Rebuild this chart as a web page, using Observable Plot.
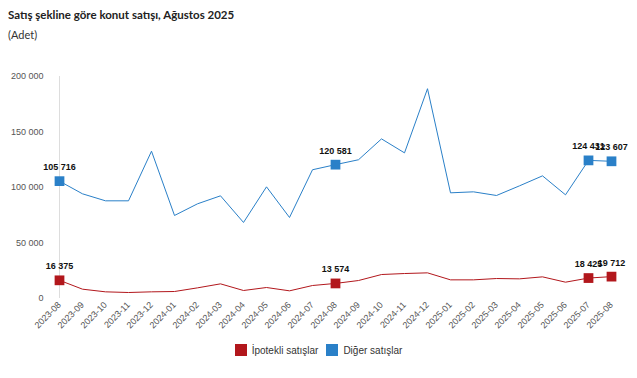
<!DOCTYPE html>
<html><head><meta charset="utf-8">
<script src="https://cdn.jsdelivr.net/npm/d3@7"></script>
<script src="https://cdn.jsdelivr.net/npm/@observablehq/plot@0.6"></script>
<style>
body{margin:0;background:#fff;width:637px;height:378px;overflow:hidden;font-family:Lato,sans-serif;}
#title{position:absolute;left:8px;top:8px;font-size:11.5px;font-weight:bold;color:#222;}
#sub{position:absolute;left:8px;top:28px;font-size:11px;color:#333;}
#chart{position:absolute;left:0;top:50px;}
#legend{position:absolute;top:344px;left:0;width:637px;text-align:center;font-family:"Liberation Sans",Arial,sans-serif;font-size:10px;color:#333;}
#legend span.sw{display:inline-block;width:12px;height:12px;vertical-align:-2px;margin-right:5px;}
#legend span.it{margin:0 4px;}
</style></head>
<body>
<div id="title">Satış şekline göre konut satışı, Ağustos 2025</div>
<div id="sub">(Adet)</div>
<div id="chart"></div>
<div id="legend"></div>
<script>
const months = ["2023-08","2023-09","2023-10","2023-11","2023-12","2024-01","2024-02","2024-03","2024-04","2024-05","2024-06","2024-07","2024-08","2024-09","2024-10","2024-11","2024-12","2025-01","2025-02","2025-03","2025-04","2025-05","2025-06","2025-07","2025-08"];
const ipotekli = [16375,8400,6000,5400,6000,6300,9600,13200,7200,9900,6900,11700,13574,16200,21600,22500,23100,16800,16800,18000,17700,19500,14700,18425,19712];
const diger = [105716,94300,88000,88000,132700,74800,85300,92500,68500,100600,73000,116000,120581,125000,143800,131200,189000,95200,96100,92800,101500,110500,93400,124431,123607];
const highlighted = ["2023-08","2024-08","2025-07","2025-08"];
const yTicks = [0,50000,100000,150000,200000];
const seriesNames = ["İpotekli satışlar","Diğer satışlar"];
const colors = ["#b2171c","#2a80c8"];

const rows = [];
months.forEach((m,i)=>{
  rows.push({month:m, value:ipotekli[i], series:seriesNames[0]});
  rows.push({month:m, value:diger[i], series:seriesNames[1]});
});
const hl = rows.filter(d=>highlighted.includes(d.month));
const fmt = v => d3.format(",")(v).replace(/,/g," ");

const chart = Plot.plot({
  width:637, height:290,
  marginLeft:54, marginRight:22, marginTop:26, marginBottom:42,
  style:{fontFamily:"'Liberation Sans',Arial,sans-serif", fontSize:"9px", color:"#444", background:"#fff"},
  x:{type:"point", domain:months, padding:0, label:null},
  y:{domain:[0,200000], label:null},
  color:{domain:seriesNames, range:colors},
  marks:[
    Plot.ruleX([months[0]], {stroke:"#ddd"}),
    Plot.ruleY([0], {stroke:"#ddd", x1:months[0], x2:months[months.length-1]}),
    Plot.axisY({ticks:yTicks, tickFormat:fmt, tickSize:0, tickPadding:11, fontSize:9, fill:"#555"}),
    Plot.axisX({tickRotate:-45, tickSize:0, tickPadding:5, fontSize:9, fill:"#555"}),
    Plot.line(rows, {x:"month", y:"value", stroke:"series", strokeWidth:1}),
    Plot.dot(hl, {x:"month", y:"value", fill:"series", symbol:"square", r:5.5}),
    Plot.text(hl, {x:"month", y:"value", text:d=>fmt(d.value), dy:-14, fontWeight:"bold", fontSize:9, fill:"#111"})
  ]
});
document.getElementById("chart").appendChild(chart);
document.getElementById("legend").innerHTML = seriesNames.map((s,i)=>`<span class="it"><span class="sw" style="background:${colors[i]}"></span>${s}</span>`).join("");
</script>
</body></html>
